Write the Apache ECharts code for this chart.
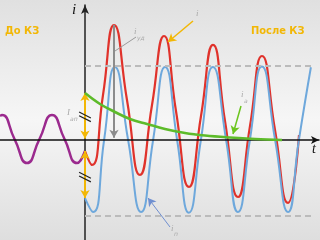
<!DOCTYPE html>
<html><head><meta charset="utf-8">
<script src="https://cdn.jsdelivr.net/npm/echarts@6/dist/echarts.min.js"></script>
<style>html,body{margin:0;padding:0;background:#eee}#c{width:320px;height:240px;}</style>
</head><body><div id="c"></div>
<script>
// time t in ms (fault at t = 0), current in units of the periodic amplitude
const preT = [-34.69, -33.88, -28.78, -23.67, -18.57, -13.47, -8.37, -3.27, 0];
const preI = [0.326, 0.340, 0.014, -0.313, 0.014, 0.340, 0.014, -0.313, -0.15];

const totalT = [0, 2.86, 7.35, 11.84, 17.14, 22.45, 27.35, 32.24, 37.14, 42.45, 47.35, 52.24, 57.14, 62.45, 67.35, 72.24, 77.55, 82.86, 87.35];
const totalI = [-0.15, -0.34, 0.612, 1.565, 0.544, -0.476, 0.476, 1.415, 0.395, -0.639, 0.327, 1.293, 0.259, -0.776, 0.190, 1.143, 0.136, -0.857, 0.068];

const periodicT = [0, 3.3, 7.8, 12.2, 17.6, 22.9, 27.8, 32.7, 37.6, 42.4, 47.3, 52.2, 57.6, 62.4, 67.3, 72.2, 77.6, 82.9, 87.3, 92.2];
const periodicI = [-0.79, -0.98, 0, 0.993, 0, -0.98, 0, 0.993, 0, -0.99, 0, 0.993, 0, -0.98, 0, 1.0, 0, -0.98, 0, 0.99];

const aperT = [0, 6.12, 12.24, 18.37, 25.31, 32.65, 40.82, 48.98, 59.18, 69.39, 80.41];
const aperI = [0.639, 0.490, 0.381, 0.286, 0.218, 0.150, 0.095, 0.061, 0.034, 0.014, 0];

const ampTop = 1.014, ampBottom = -1.034, dashEnd = 93.1;
const peakT = 11.84, peakI = 1.565;

const pts = (T, V) => T.map((t, i) => [t, V[i]]);
const chart = echarts.init(document.getElementById('c'), null, {renderer: 'canvas'});

const arrowLine = (a, b, color, w, syms) => ({
  coords: [a, b], symbol: syms, symbolSize: [7, 8],
  lineStyle: {color: color, width: w, type: 'solid'}
});
function ml(items) {
  return {
    silent: true, animation: false, label: {show: false},
    data: items.map(it => [
      {coord: it.coords[0], symbol: it.symbol[0], symbolSize: it.symbolSize, lineStyle: it.lineStyle},
      {coord: it.coords[1], symbol: it.symbol[1], symbolSize: it.symbolSize, lineStyle: it.lineStyle}
    ])
  };
}

const yellow = '#f2b705';
chart.setOption({
  animation: false,
  backgroundColor: new echarts.graphic.LinearGradient(0, 0, 0, 1, [
    {offset: 0, color: '#e0e0e0'}, {offset: 0.5, color: '#f6f6f6'}, {offset: 1, color: '#dedede'}
  ]),
  grid: {left: 0, right: 1, top: 5, bottom: 0, containLabel: false},
  xAxis: {type: 'value', min: -34.69, max: 95.51, z: 5,
    axisLine: {onZero: true, symbol: ['none', 'arrow'], symbolSize: [6, 8], lineStyle: {color: '#111', width: 1.5}},
    axisTick: {show: false}, axisLabel: {show: false}, splitLine: {show: false}},
  yAxis: {type: 'value', min: -1.361, max: 1.837, z: 1,
    axisLine: {show: true, onZero: true, symbol: ['none', 'arrow'], symbolSize: [6, 9], lineStyle: {color: '#222', width: 1.5}},
    axisTick: {show: false}, axisLabel: {show: false}, splitLine: {show: false}},
  series: [
    {type: 'line', data: [], z: 1,
      markLine: ml([
        arrowLine([0, ampTop], [dashEnd, ampTop], '#bbb', 2, ['none', 'none']),
        arrowLine([0, ampBottom], [dashEnd, ampBottom], '#bbb', 2, ['none', 'none'])
      ].map(o => (o.lineStyle.type = [6, 4], o)))},
    {type: 'line', name: 'pre', data: pts(preT, preI), smooth: 0.55, showSymbol: false, z: 3,
      lineStyle: {color: '#9b2a8e', width: 2.5}},
    {type: 'line', name: 'total', data: pts(totalT, totalI), smooth: 0.55, showSymbol: false, z: 3,
      lineStyle: {color: '#e0322b', width: 2.2}},
    {type: 'line', name: 'periodic', data: pts(periodicT, periodicI), smooth: 0.55, showSymbol: false, z: 4,
      lineStyle: {color: '#6ea8dc', width: 2}},
    {type: 'line', name: 'aper', data: pts(aperT, aperI), smooth: 0.4, showSymbol: false, z: 6,
      lineStyle: {color: '#5dbb2a', width: 2.6}},
    {type: 'line', data: [], z: 7,
      markLine: ml([
        arrowLine([0, 0.02], [0, aperI[0]], yellow, 2, ['arrow', 'arrow']),
        arrowLine([0, totalI[0]], [0, periodicI[0]], yellow, 2, ['arrow', 'arrow']),
        arrowLine([peakT, peakI], [peakT, 0.03], '#8c8c8c', 2, ['none', 'arrow']),
        arrowLine([20.82, 1.401], [12.24, 1.211], '#9a9a9a', 1, ['none', 'none']),
        arrowLine([44.08, 1.619], [33.88, 1.333], yellow, 1.5, ['none', 'arrow']),
        arrowLine([63.67, 0.463], [60.41, 0.082], '#6cc51f', 1.5, ['none', 'arrow']),
        arrowLine([34.69, -1.184], [25.71, -0.789], '#6f8fd0', 1, ['none', 'arrow']),
        arrowLine([-2.4, 0.38], [2.4, 0.30], '#222', 1.2, ['none', 'none']),
        arrowLine([-2.4, 0.33], [2.4, 0.25], '#222', 1.2, ['none', 'none']),
        arrowLine([-2.4, -0.44], [2.4, -0.52], '#222', 1.2, ['none', 'none']),
        arrowLine([-2.4, -0.49], [2.4, -0.57], '#222', 1.2, ['none', 'none'])
      ])}
  ],
  graphic: [
    {type: 'text', left: 72, top: 3, z: 20, style: {text: 'i', font: 'italic 15px "Liberation Serif"', fill: '#111'}},
    {type: 'text', left: 312, top: 142, z: 20, style: {text: 't', font: 'italic 14px "Liberation Serif"', fill: '#111'}},
    {type: 'text', left: 5, top: 26, z: 20, style: {text: 'До КЗ', font: 'bold 11px "DejaVu Sans Condensed"', fill: yellow}},
    {type: 'text', left: 251, top: 26, z: 20, style: {text: 'После КЗ', font: 'bold 11px "DejaVu Sans Condensed"', fill: yellow}},
    {type: 'text', left: 134, top: 27, z: 20, style: {text: 'i', font: 'italic 9px "Liberation Serif"', fill: '#aaa'}},
    {type: 'text', left: 137, top: 35, z: 20, style: {text: 'уд', font: 'italic 6px "DejaVu Sans"', fill: '#aaa'}},
    {type: 'text', left: 196, top: 9, z: 20, style: {text: 'i', font: 'italic 9px "Liberation Serif"', fill: '#aaa'}},
    {type: 'text', left: 241, top: 90, z: 20, style: {text: 'i', font: 'italic 9px "Liberation Serif"', fill: '#aaa'}},
    {type: 'text', left: 244, top: 98, z: 20, style: {text: 'а', font: 'italic 6px "DejaVu Sans"', fill: '#aaa'}},
    {type: 'text', left: 171, top: 224, z: 20, style: {text: 'i', font: 'italic 9px "Liberation Serif"', fill: '#aaa'}},
    {type: 'text', left: 174, top: 231, z: 20, style: {text: 'п', font: 'italic 6px "DejaVu Sans"', fill: '#aaa'}},
    {type: 'text', left: 67, top: 108, z: 20, style: {text: 'I', font: 'italic 9px "Liberation Serif"', fill: '#aaa'}},
    {type: 'text', left: 70, top: 116, z: 20, style: {text: 'ап', font: 'italic 6px "DejaVu Sans"', fill: '#aaa'}}
  ]
});
</script></body></html>
